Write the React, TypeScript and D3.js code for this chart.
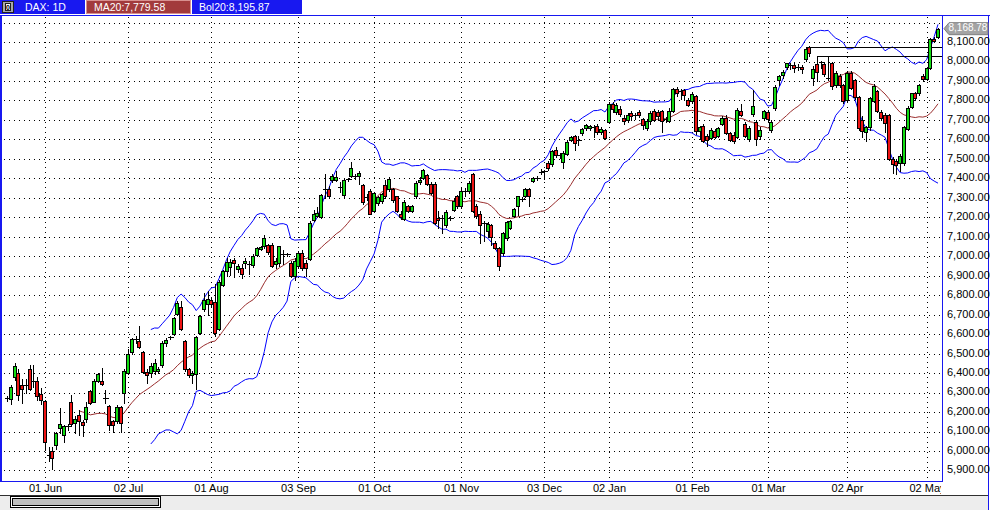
import { useMemo } from "react";
import * as d3 from "d3";

// open, high, low, close
type Ohlc = [number, number, number, number];

const may12: Ohlc[] = [
  [6268, 6280, 6258, 6270], [6269, 6340, 6240, 6331], [6382, 6452, 6365, 6437], [6399, 6420, 6262, 6286],
  [6338, 6372, 6245, 6318], [6336, 6370, 6300, 6338], [6423, 6442, 6315, 6321], [6360, 6440, 6330, 6355],
  [6360, 6380, 6262, 6280], [6295, 6322, 6240, 6262],
];
const jun12: Ohlc[] = [
  [6259, 6262, 6005, 6048], [5978, 6022, 5950, 5975], [6000, 6020, 5910, 5966], [6030, 6100, 6010, 6095],
  [6116, 6222, 6090, 6141], [6081, 6135, 6046, 6129], [6125, 6138, 6110, 6128], [6254, 6286, 6130, 6141],
  [6143, 6180, 6095, 6163], [6184, 6210, 6080, 6153], [6150, 6160, 6075, 6136], [6163, 6250, 6150, 6228],
  [6307, 6315, 6240, 6249], [6254, 6370, 6250, 6362], [6362, 6400, 6355, 6393], [6358, 6428, 6340, 6343],
  [6271, 6313, 6247, 6268], [6232, 6236, 6110, 6133], [6155, 6160, 6100, 6136], [6155, 6235, 6145, 6228],
  [6228, 6232, 6100, 6146], [6300, 6420, 6249, 6413],
];
const jul12: Ohlc[] = [
  [6403, 6523, 6395, 6497], [6506, 6580, 6500, 6577], [6575, 6590, 6555, 6568], [6564, 6642, 6530, 6536],
  [6506, 6515, 6400, 6408], [6408, 6420, 6351, 6389], [6400, 6450, 6380, 6437], [6411, 6475, 6395, 6454],
  [6410, 6430, 6400, 6420], [6442, 6565, 6430, 6557], [6557, 6580, 6540, 6569], [6583, 6590, 6575, 6583],
  [6600, 6690, 6595, 6685], [6706, 6770, 6700, 6759], [6742, 6770, 6620, 6625], [6565, 6570, 6410, 6423],
  [6420, 6425, 6380, 6390], [6390, 6410, 6350, 6403], [6395, 6590, 6321, 6583], [6608, 6700, 6600, 6695],
  [6729, 6809, 6720, 6775], [6755, 6820, 6700, 6780],
];
const aug12: Ohlc[] = [
  [6778, 6790, 6745, 6754], [6763, 6860, 6590, 6604], [6627, 6880, 6620, 6869], [6852, 6930, 6845, 6923],
  [6923, 6990, 6900, 6971], [6946, 6985, 6903, 6971], [6983, 6990, 6894, 6966], [6934, 6960, 6920, 6949],
  [6942, 6960, 6886, 6911], [6963, 6990, 6940, 6978], [6957, 6975, 6911, 6958], [6957, 7010, 6945, 7002],
  [7009, 7050, 7000, 7043], [7035, 7055, 7030, 7047], [7051, 7110, 7045, 7094], [7056, 7065, 7010, 7022],
  [7060, 7070, 6945, 6950], [6961, 6990, 6940, 6978], [6963, 7055, 6950, 7051], [7011, 7030, 6960, 7014],
  [7010, 7015, 7000, 7010], [6968, 6975, 6895, 6900], [6900, 6990, 6880, 6978],
];
const sep12: Ohlc[] = [
  [6951, 7025, 6940, 7019], [7019, 7030, 6930, 6940], [6968, 6980, 6900, 6942], [6988, 7180, 6980, 7171],
  [7186, 7240, 7180, 7217], [7207, 7253, 7200, 7224], [7201, 7320, 7195, 7316], [7344, 7423, 7300, 7348],
  [7346, 7360, 7300, 7312], [7391, 7420, 7380, 7411], [7391, 7440, 7385, 7408], [7355, 7380, 7330, 7356],
  [7316, 7400, 7300, 7393], [7395, 7400, 7385, 7396], [7411, 7483, 7405, 7452], [7410, 7420, 7395, 7411],
  [7410, 7440, 7372, 7428], [7364, 7370, 7270, 7278], [7305, 7320, 7290, 7306], [7335, 7345, 7215, 7219],
];
const oct12: Ohlc[] = [
  [7231, 7330, 7225, 7325], [7274, 7310, 7265, 7305], [7283, 7325, 7275, 7320], [7367, 7390, 7300, 7308],
  [7343, 7408, 7335, 7397], [7343, 7350, 7280, 7288], [7308, 7312, 7225, 7231], [7219, 7230, 7190, 7202],
  [7192, 7290, 7185, 7281], [7257, 7265, 7225, 7235], [7235, 7265, 7225, 7257], [7308, 7385, 7300, 7377],
  [7380, 7405, 7370, 7394], [7403, 7450, 7395, 7442], [7415, 7425, 7365, 7373], [7373, 7380, 7320, 7325],
  [7373, 7380, 7165, 7171], [7195, 7231, 7145, 7188], [7195, 7210, 7120, 7196], [7159, 7240, 7150, 7228],
  [7195, 7205, 7185, 7195], [7236, 7295, 7230, 7286], [7308, 7315, 7250, 7257],
];
const nov12: Ohlc[] = [
  [7257, 7351, 7250, 7334], [7334, 7350, 7310, 7336], [7334, 7385, 7325, 7377], [7423, 7430, 7225, 7231],
  [7260, 7270, 7195, 7205], [7219, 7230, 7068, 7163], [7168, 7180, 7080, 7170], [7128, 7175, 7100, 7168],
  [7159, 7165, 7060, 7099], [7066, 7080, 7035, 7042], [7042, 7048, 6930, 6948], [7017, 7125, 7005, 7117],
  [7094, 7180, 7085, 7174], [7145, 7185, 7140, 7180], [7205, 7250, 7200, 7243], [7257, 7312, 7214, 7308],
  [7295, 7305, 7285, 7296], [7312, 7350, 7305, 7346], [7343, 7350, 7260, 7312], [7385, 7405, 7380, 7400],
  [7400, 7410, 7390, 7401], [7433, 7450, 7420, 7435],
];
const dec12: Ohlc[] = [
  [7433, 7445, 7395, 7436], [7480, 7490, 7445, 7454], [7472, 7545, 7465, 7540], [7545, 7560, 7510, 7518],
  [7518, 7530, 7505, 7519], [7484, 7540, 7455, 7531], [7526, 7595, 7520, 7588], [7596, 7620, 7590, 7613],
  [7620, 7625, 7545, 7583], [7597, 7620, 7570, 7598], [7634, 7660, 7625, 7654], [7657, 7680, 7650, 7674],
  [7660, 7675, 7650, 7671], [7665, 7672, 7615, 7664], [7670, 7680, 7630, 7636], [7640, 7665, 7630, 7655],
  [7647, 7655, 7600, 7608],
];
const jan13: Ohlc[] = [
  [7690, 7790, 7685, 7784], [7780, 7790, 7740, 7756], [7741, 7785, 7730, 7778], [7756, 7770, 7720, 7732],
  [7710, 7725, 7680, 7693], [7702, 7735, 7690, 7727], [7736, 7745, 7700, 7719], [7722, 7735, 7705, 7723],
  [7739, 7750, 7715, 7727], [7705, 7712, 7655, 7676], [7659, 7705, 7650, 7697], [7693, 7745, 7680, 7736],
  [7748, 7755, 7695, 7702], [7740, 7750, 7700, 7722], [7744, 7750, 7640, 7697], [7702, 7715, 7690, 7703],
  [7697, 7760, 7690, 7748], [7744, 7865, 7740, 7860], [7860, 7870, 7825, 7838], [7850, 7860, 7810, 7851],
  [7852, 7858, 7800, 7830], [7804, 7815, 7770, 7778],
];
const feb13: Ohlc[] = [
  [7796, 7845, 7785, 7835], [7821, 7830, 7630, 7642], [7642, 7670, 7600, 7664], [7668, 7680, 7585, 7591],
  [7620, 7630, 7565, 7595], [7608, 7660, 7600, 7651], [7642, 7655, 7605, 7613], [7620, 7665, 7615, 7659],
  [7681, 7720, 7675, 7710], [7710, 7725, 7630, 7634], [7634, 7640, 7590, 7596], [7625, 7640, 7580, 7591],
  [7613, 7760, 7605, 7753], [7745, 7784, 7720, 7728], [7681, 7690, 7610, 7617], [7600, 7670, 7590, 7660],
  [7731, 7855, 7720, 7770], [7690, 7700, 7570, 7600], [7620, 7665, 7600, 7650], [7710, 7750, 7700, 7744],
];
const mar13: Ohlc[] = [
  [7740, 7750, 7695, 7706], [7651, 7700, 7640, 7691], [7760, 7880, 7750, 7871], [7905, 7930, 7880, 7924],
  [7930, 7955, 7915, 7946], [7972, 7995, 7960, 7992], [7982, 7992, 7960, 7983], [7982, 7990, 7945, 7968],
  [7972, 7985, 7955, 7973], [7973, 7980, 7940, 7963], [8014, 8076, 8005, 8062], [8076, 8078, 8030, 8045],
  [7914, 7975, 7880, 7960], [7985, 8030, 7900, 7946], [7998, 8005, 7965, 8000], [7989, 7995, 7925, 7934],
  [7917, 8028, 7905, 7918], [7990, 8000, 7860, 7872], [7880, 7950, 7870, 7940], [7925, 7935, 7870, 7880],
  [7880, 7885, 7785, 7795],
];
const apr13: Ohlc[] = [
  [7800, 7950, 7795, 7943], [7943, 7950, 7860, 7866], [7903, 7910, 7810, 7819], [7819, 7825, 7650, 7660],
  [7700, 7720, 7610, 7645], [7640, 7670, 7590, 7662], [7665, 7820, 7650, 7814], [7797, 7885, 7790, 7874],
  [7848, 7855, 7740, 7746], [7742, 7750, 7700, 7711], [7728, 7735, 7640, 7682], [7723, 7730, 7495, 7500],
  [7497, 7510, 7430, 7472], [7489, 7500, 7425, 7468], [7477, 7525, 7440, 7514], [7477, 7670, 7470, 7663],
  [7655, 7770, 7650, 7763], [7768, 7840, 7760, 7836], [7836, 7845, 7805, 7814], [7836, 7885, 7830, 7877],
  [7925, 7935, 7900, 7908],
];
const may13: Ohlc[] = [
  [7908, 7970, 7905, 7965], [7968, 8120, 7960, 8117], [8117, 8125, 8100, 8108], [8127, 8172, 8120, 8168.78],
];

const candles: Ohlc[] = [
  ...may12, ...jun12, ...jul12, ...aug12, ...sep12, ...oct12, ...nov12,
  ...dec12, ...jan13, ...feb13, ...mar13, ...apr13, ...may13,
];

const dateTickIdx = [10, 32, 54, 77, 97, 120, 142, 159, 181, 201, 222, 243];
const dateTickLabels = ["01 Jun", "02 Jul", "01 Aug", "03 Sep", "01 Oct", "01 Nov", "03 Dec", "02 Jan", "01 Feb", "01 Mar", "02 Apr", "02 May"];
const priceTicks = [5900, 6000, 6100, 6200, 6300, 6400, 6500, 6600, 6700, 6800, 6900, 7000, 7100, 7200, 7300, 7400, 7500, 7600, 7700, 7800, 7900, 8000, 8100, 8200];
const levelStart = [211, 214];
const levelPrice = [8076, 8029];

const symbolText = "DAX: 1D";
const maText = "MA20:7,779.58";
const bolText = "Bol20:8,195.87";

const PERIOD = 20;
const MA_FROM = 19;
const BAND_FROM = 38;

const BLUE = "#1818f0";
const FONT = "'Liberation Sans', Arial, sans-serif";
const PLOT = { left: 0, top: 15, right: 943, bottom: 481.5 };

export default function App() {
  const x = d3.scaleLinear().domain([0, candles.length - 1]).range([7, 938]);
  const y = d3.scaleLinear().domain([5846, 8239]).range([481, 15]);
  const fmt = d3.format(",.2f");

  // 20-day moving average and bollinger bands from the closes
  const stats = useMemo(() => {
    const closes = candles.map((d) => d[3]);
    return closes.map((_, i) => {
      if (i < PERIOD - 1) return null;
      const win = closes.slice(i - PERIOD + 1, i + 1);
      const m = d3.mean(win) as number;
      const sd = Math.sqrt(d3.mean(win, (v) => (v - m) ** 2) as number);
      return { i, m, up: m + 2 * sd, lo: m - 2 * sd };
    });
  }, []);

  type Pt = { i: number; v: number };
  const line = d3.line<Pt>().x((d) => x(d.i)).y((d) => y(d.v));
  const valid = stats.filter((s) => s !== null) as { i: number; m: number; up: number; lo: number }[];
  const maPath = line(valid.filter((s) => s.i >= MA_FROM).map((s) => ({ i: s.i, v: s.m })));
  const upPath = line(valid.filter((s) => s.i >= BAND_FROM).map((s) => ({ i: s.i, v: s.up })));
  const loPath = line(valid.filter((s) => s.i >= BAND_FROM).map((s) => ({ i: s.i, v: s.lo })));

  const last = candles[candles.length - 1][3];
  const tagY = y(last);

  return (
    <>
      <style>{`body{margin:0;background:#fff}`}</style>
      <svg width={990} height={510} style={{ display: "block" }} fontFamily={FONT}>
        <defs>
          <clipPath id="plotClip">
            <rect x={PLOT.left} y={PLOT.top} width={PLOT.right - PLOT.left} height={PLOT.bottom - PLOT.top} />
          </clipPath>
          <clipPath id="dateClip">
            <rect x={0} y={482} width={941} height={13} />
          </clipPath>
        </defs>
        <rect x={0} y={0} width={990} height={510} fill="#fff" />

        {/* header */}
        <rect x={0} y={0} width={302} height={14} fill={BLUE} />
        <rect x={2.5} y={1.5} width={11} height={11} fill="#a8a8a8" stroke="#202020" />
        <rect x={5.5} y={3.5} width={5} height={7} fill="#fff" stroke="#202020" />
        <text x={8} y={9.5} fontSize={7} fontWeight="bold" textAnchor="middle">0</text>
        <text x={25} y={11} fontSize={10.5} fill="#fff">{symbolText}</text>
        <line x1={85.5} x2={85.5} y1={0} y2={14} stroke="#fff" />
        <rect x={86.5} y={0.5} width={104} height={13} fill="#a23a3c" stroke="#d89090" />
        <text x={94} y={11} fontSize={10.5} fill="#fff">{maText}</text>
        <line x1={191.5} x2={191.5} y1={0} y2={14} stroke="#fff" />
        <text x={199} y={11} fontSize={10.5} fill="#fff">{bolText}</text>
        <line x1={0} x2={990} y1={15.5} y2={15.5} stroke={BLUE} />

        {/* grid */}
        <g stroke="#000" strokeDasharray="1,4" shapeRendering="crispEdges">
          {priceTicks.map((p) => (
            <line key={p} x1={4} x2={PLOT.right} y1={Math.round(y(p)) + 0.5} y2={Math.round(y(p)) + 0.5} />
          ))}
          {dateTickIdx.map((i) => (
            <line key={i} x1={Math.round(x(i)) + 0.5} x2={Math.round(x(i)) + 0.5} y1={17} y2={PLOT.bottom} />
          ))}
        </g>

        <g clipPath="url(#plotClip)">
          <path d={upPath ?? ""} fill="none" stroke="#0000ff" strokeWidth={1} />
          <path d={loPath ?? ""} fill="none" stroke="#0000ff" strokeWidth={1} />
          <path d={maPath ?? ""} fill="none" stroke="#9a2e2e" strokeWidth={1} />

          {levelStart.map((s, k) => (
            <line key={k} x1={x(s)} x2={PLOT.right} y1={Math.round(y(levelPrice[k])) + 0.5}
              y2={Math.round(y(levelPrice[k])) + 0.5} stroke="#000" shapeRendering="crispEdges" />
          ))}

          <g shapeRendering="crispEdges">
            {candles.map(([o, h, l, c], i) => {
              const cx = Math.round(x(i));
              const top = Math.round(y(Math.max(o, c)));
              const bot = Math.round(y(Math.min(o, c)));
              const up = c >= o;
              return (
                <g key={i}>
                  <line x1={cx + 0.5} x2={cx + 0.5} y1={Math.round(y(h))} y2={Math.round(y(l)) + 1} stroke="#000" />
                  {bot - top < 2 ? (
                    <line x1={cx - 2} x2={cx + 4} y1={top + 0.5} y2={top + 0.5} stroke="#000" strokeWidth={1.5} />
                  ) : (
                    <rect x={cx - 1.5} y={top + 0.5} width={3} height={bot - top}
                      fill={up ? "#12dc12" : "#ee1414"} stroke="#000" />
                  )}
                </g>
              );
            })}
          </g>
        </g>

        {/* frame */}
        <g shapeRendering="crispEdges">
          <rect x={0} y={15} width={2} height={467} fill={BLUE} />
          <line x1={PLOT.right - 0.5} x2={PLOT.right - 0.5} y1={15} y2={PLOT.bottom} stroke={BLUE} />
          <line x1={0} x2={PLOT.right} y1={PLOT.bottom} y2={PLOT.bottom} stroke={BLUE} />
          <line x1={988.5} x2={988.5} y1={15} y2={510} stroke={BLUE} />
          <line x1={0} x2={988} y1={495.5} y2={495.5} stroke="#303030" />
          <rect x={0} y={496} width={988} height={14} fill="#ededed" />
          <rect x={10.5} y={496.5} width={150} height={11} fill="#fff" stroke="#000" />
          <rect x={12.5} y={498.5} width={146} height={7} fill="#c0c0c0" stroke="#000" />
        </g>

        {/* price axis */}
        <g fontSize={11} fill="#000">
          {priceTicks.filter((p) => p <= 8100).map((p) => (
            <text key={p} x={947} y={y(p)} dominantBaseline="middle">{fmt(p)}</text>
          ))}
        </g>

        {/* last price tag */}
        <polygon
          points={`944,${tagY} 949,${tagY - 6} 988,${tagY - 6} 988,${tagY + 6} 949,${tagY + 6}`}
          fill="#a4a4a4" stroke="#808080"
        />
        <text x={948.5} y={tagY} fontSize={10} fill="#fff" dominantBaseline="middle">{fmt(last)}</text>

        {/* date axis */}
        <g fontSize={11} fill="#000" clipPath="url(#dateClip)">
          {dateTickIdx.map((i, k) => (
            <text key={i} x={Math.round(x(i)) + 0.5} y={489} textAnchor="middle" dominantBaseline="middle">
              {dateTickLabels[k]}
            </text>
          ))}
        </g>
      </svg>
    </>
  );
}
